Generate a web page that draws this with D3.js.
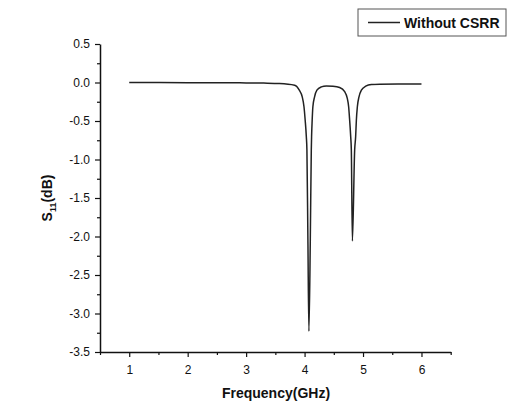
<!DOCTYPE html>
<html>
<head>
<meta charset="utf-8">
<script src="https://cdn.jsdelivr.net/npm/d3@7"></script>
<style>
  body { margin: 0; background: #fff; }
  text { font-family: Arial, "Liberation Sans", sans-serif; fill: #111; }
</style>
</head>
<body>
<svg></svg>
<script>
const SVG_WIDTH = 510, SVG_HEIGHT = 417;
const PLOT = { left: 100, right: 450.7, top: 44, bottom: 352 };

// values
const freq = [1.0, 2.0, 3.0, 3.3, 3.57, 3.83, 3.91, 3.96, 3.99, 4.01, 4.03, 4.04, 4.057, 4.074,
              4.098, 4.115, 4.12, 4.13, 4.142, 4.171, 4.211, 4.286, 4.372, 4.486, 4.6, 4.686,
              4.731, 4.754, 4.771, 4.789, 4.8, 4.818, 4.857, 4.874, 4.886, 4.903, 4.931, 4.972,
              5.046, 5.143, 5.286, 5.6, 6.0];
const s11 = [0, -0.002, -0.005, -0.008, -0.013, -0.035, -0.1, -0.186, -0.315, -0.487, -0.703, -0.875, -2.04, -3.23,
             -2.04, -0.875, -0.70, -0.49, -0.315, -0.186, -0.1, -0.057, -0.044, -0.048, -0.065, -0.12,
             -0.207, -0.315, -0.487, -0.703, -0.875, -2.06, -0.875, -0.70, -0.49, -0.315, -0.186, -0.1,
             -0.048, -0.026, -0.022, -0.02, -0.02];
const xTicks = [1, 2, 3, 4, 5, 6];
const yTicks = [0.5, 0.0, -0.5, -1.0, -1.5, -2.0, -2.5, -3.0, -3.5];
const xMinor = [0.5, 1.5, 2.5, 3.5, 4.5, 5.5, 6.5];
const yMinor = [0.25, -0.25, -0.75, -1.25, -1.75, -2.25, -2.75, -3.25];
const seriesName = "Without CSRR";

const svg = d3.select("svg").attr("width", SVG_WIDTH).attr("height", SVG_HEIGHT);

const x = d3.scaleLinear().domain([0.5, 6.5]).range([PLOT.left, PLOT.right]);
const y = d3.scaleLinear().domain([-3.5, 0.5]).range([PLOT.bottom, PLOT.top]);

// minor ticks first, under the major axes
svg.append("g")
    .attr("transform", "translate(0," + PLOT.bottom + ")")
    .call(d3.axisBottom(x).tickValues(xMinor).tickSize(3).tickFormat(""))
    .call(g => g.select(".domain").remove());
svg.append("g")
    .attr("transform", "translate(" + PLOT.left + ",0)")
    .call(d3.axisLeft(y).tickValues(yMinor).tickSize(3).tickFormat(""))
    .call(g => g.select(".domain").remove());

const xAxis = svg.append("g")
    .attr("transform", "translate(0," + PLOT.bottom + ")")
    .call(d3.axisBottom(x).tickValues(xTicks).tickSize(5).tickSizeOuter(0).tickPadding(8).tickFormat(d3.format("d")));
const yAxis = svg.append("g")
    .attr("transform", "translate(" + PLOT.left + ",0)")
    .call(d3.axisLeft(y).tickValues(yTicks).tickSize(5).tickSizeOuter(0).tickPadding(5).tickFormat(d3.format(".1f")));

svg.selectAll(".tick line").attr("stroke", "#111").attr("stroke-width", 1.2);
svg.selectAll(".domain").attr("stroke", "#111").attr("stroke-width", 1.5);
svg.selectAll(".tick text").attr("font-size", 12).attr("fill", "#111")
    .attr("font-family", "Arial, 'Liberation Sans', sans-serif");
yAxis.selectAll(".tick text").text(d => d3.format(".1f")(d).replace("−", "-"));

// curve
const pts = freq.map((f, i) => [f, s11[i]]);
svg.append("path")
    .datum(pts)
    .attr("fill", "none")
    .attr("stroke", "#222")
    .attr("stroke-width", 1.5)
    .attr("d", d3.line().x(d => x(d[0])).y(d => y(d[1])).curve(d3.curveMonotoneX));

// axis titles
svg.append("text")
    .attr("x", 276).attr("y", 398)
    .attr("text-anchor", "middle")
    .attr("font-size", 14).attr("font-weight", "bold")
    .text("Frequency(GHz)");

const yTitle = svg.append("text")
    .attr("transform", "translate(52,198) rotate(-90)")
    .attr("text-anchor", "middle")
    .attr("font-size", 14).attr("font-weight", "bold");
yTitle.append("tspan").text("S");
yTitle.append("tspan").attr("font-size", 9).attr("dy", 4).text("11");
yTitle.append("tspan").attr("dy", -4).text("(dB)");

// legend
const legend = svg.append("g").attr("transform", "translate(358,9)");
legend.append("rect")
    .attr("width", 148).attr("height", 27)
    .attr("fill", "#fff").attr("stroke", "#555").attr("stroke-width", 1);
legend.append("line")
    .attr("x1", 10).attr("x2", 42).attr("y1", 13.5).attr("y2", 13.5)
    .attr("stroke", "#222").attr("stroke-width", 1.5);
legend.append("text")
    .attr("x", 46).attr("y", 19)
    .attr("font-size", 14).attr("font-weight", "bold")
    .text(seriesName);
</script>
</body>
</html>
